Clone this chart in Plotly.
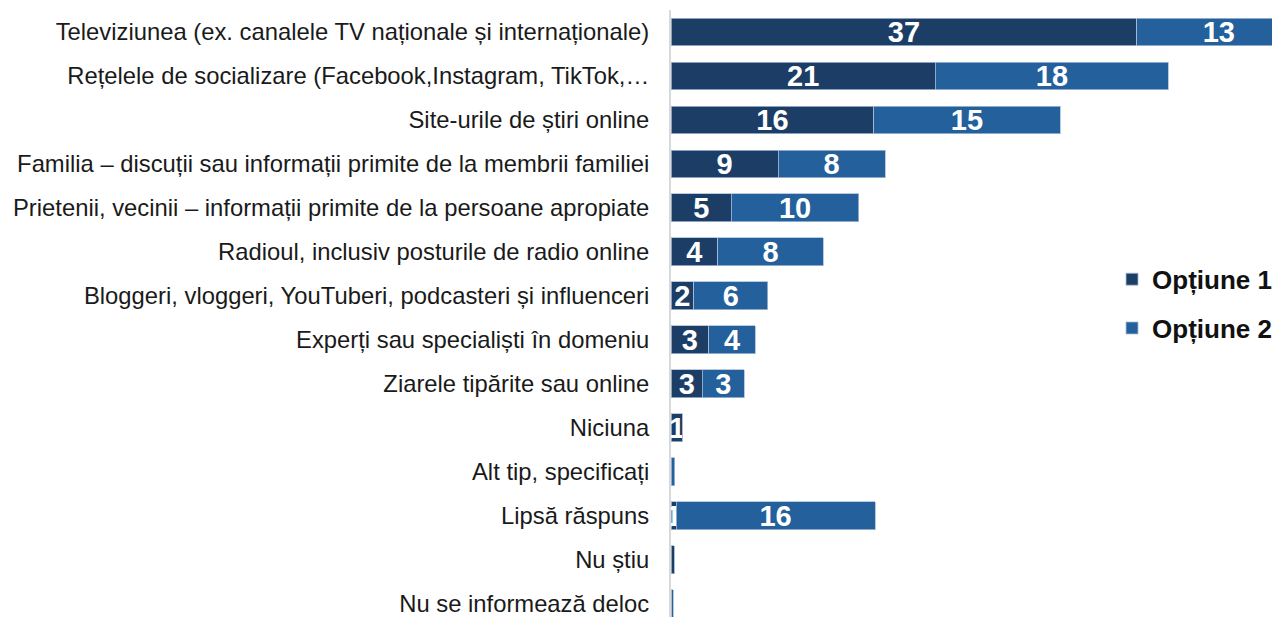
import plotly.graph_objects as go

categories = [
    "Televiziunea (ex. canalele TV naționale și internaționale)",
    "Rețelele de socializare (Facebook,Instagram, TikTok,…",
    "Site-urile de știri online",
    "Familia – discuții sau informații primite de la membrii familiei",
    "Prietenii, vecinii – informații primite de la persoane apropiate",
    "Radioul, inclusiv posturile de radio online",
    "Bloggeri, vloggeri, YouTuberi, podcasteri și influenceri",
    "Experți sau specialiști în domeniu",
    "Ziarele tipărite sau online",
    "Niciuna",
    "Alt tip, specificați",
    "Lipsă răspuns",
    "Nu știu",
    "Nu se informează deloc",
]

option1 = [37.0, 21.0, 16.1, 8.5, 4.8, 3.7, 1.8, 3.0, 2.5, 0.95, 0.0, 0.4, 0.25, 0.05]
option2 = [13.0, 18.5, 14.8, 8.5, 10.1, 8.4, 5.9, 3.7, 3.3, 0.0, 0.3, 15.8, 0.0, 0.12]

labels1 = ["37", "21", "16", "9", "5", "4", "2", "3", "3", "1", "", "1", "", ""]
labels2 = ["13", "18", "15", "8", "10", "8", "6", "4", "3", "", "", "16", "", ""]

series_names = ["Opțiune 1", "Opțiune 2"]
colors = ["#1b3d66", "#23609c"]

fig = go.Figure()
for name, vals, labs, col, grp in [
    (series_names[0], option1, labels1, colors[0], "a"),
    (series_names[1], option2, labels2, colors[1], "b"),
]:
    fig.add_trace(go.Bar(
        name=name,
        y=categories,
        x=vals,
        orientation="h",
        marker=dict(color=col, line=dict(color="#a9bdd6", width=0.8)),
        text=labs,
        textposition="inside",
        insidetextanchor="middle",
        constraintext="none",
        textangle=0,
        textfont=dict(family="Liberation Sans", size=29, color="white", weight="bold"),
        legendgroup=grp,
        cliponaxis=True,
    ))

fig.update_layout(
    barmode="stack",
    bargap=0.366,
    width=1272,
    height=609,
    margin=dict(l=663, r=7, t=2, b=0, autoexpand=False),
    paper_bgcolor="white",
    plot_bgcolor="white",
    font=dict(family="Liberation Sans", color="#1a1a1a"),
    showlegend=True,
    legend=dict(
        x=0.7326, y=0.516, xanchor="left", yanchor="middle",
        font=dict(family="Liberation Sans", size=26, color="#111111", weight="bold"),
        tracegroupgap=12,
        bgcolor="rgba(0,0,0,0)",
        itemwidth=30,
    ),
    xaxis=dict(
        range=[0, 47.8],
        showgrid=False, zeroline=False, showticklabels=False, showline=False,
        fixedrange=True, automargin=False,
    ),
    yaxis=dict(
        type="category",
        categoryorder="array",
        categoryarray=categories,
        range=[13.3, -0.5],
        showgrid=False, zeroline=False,
        showline=True, linecolor="#d9d9d9", linewidth=2,
        ticks="",
        ticklabelstandoff=15,
        automargin=False,
        tickfont=dict(family="Liberation Sans", size=23.8, color="#1a1a1a"),
    ),
)

fig.write_html("out.html")
